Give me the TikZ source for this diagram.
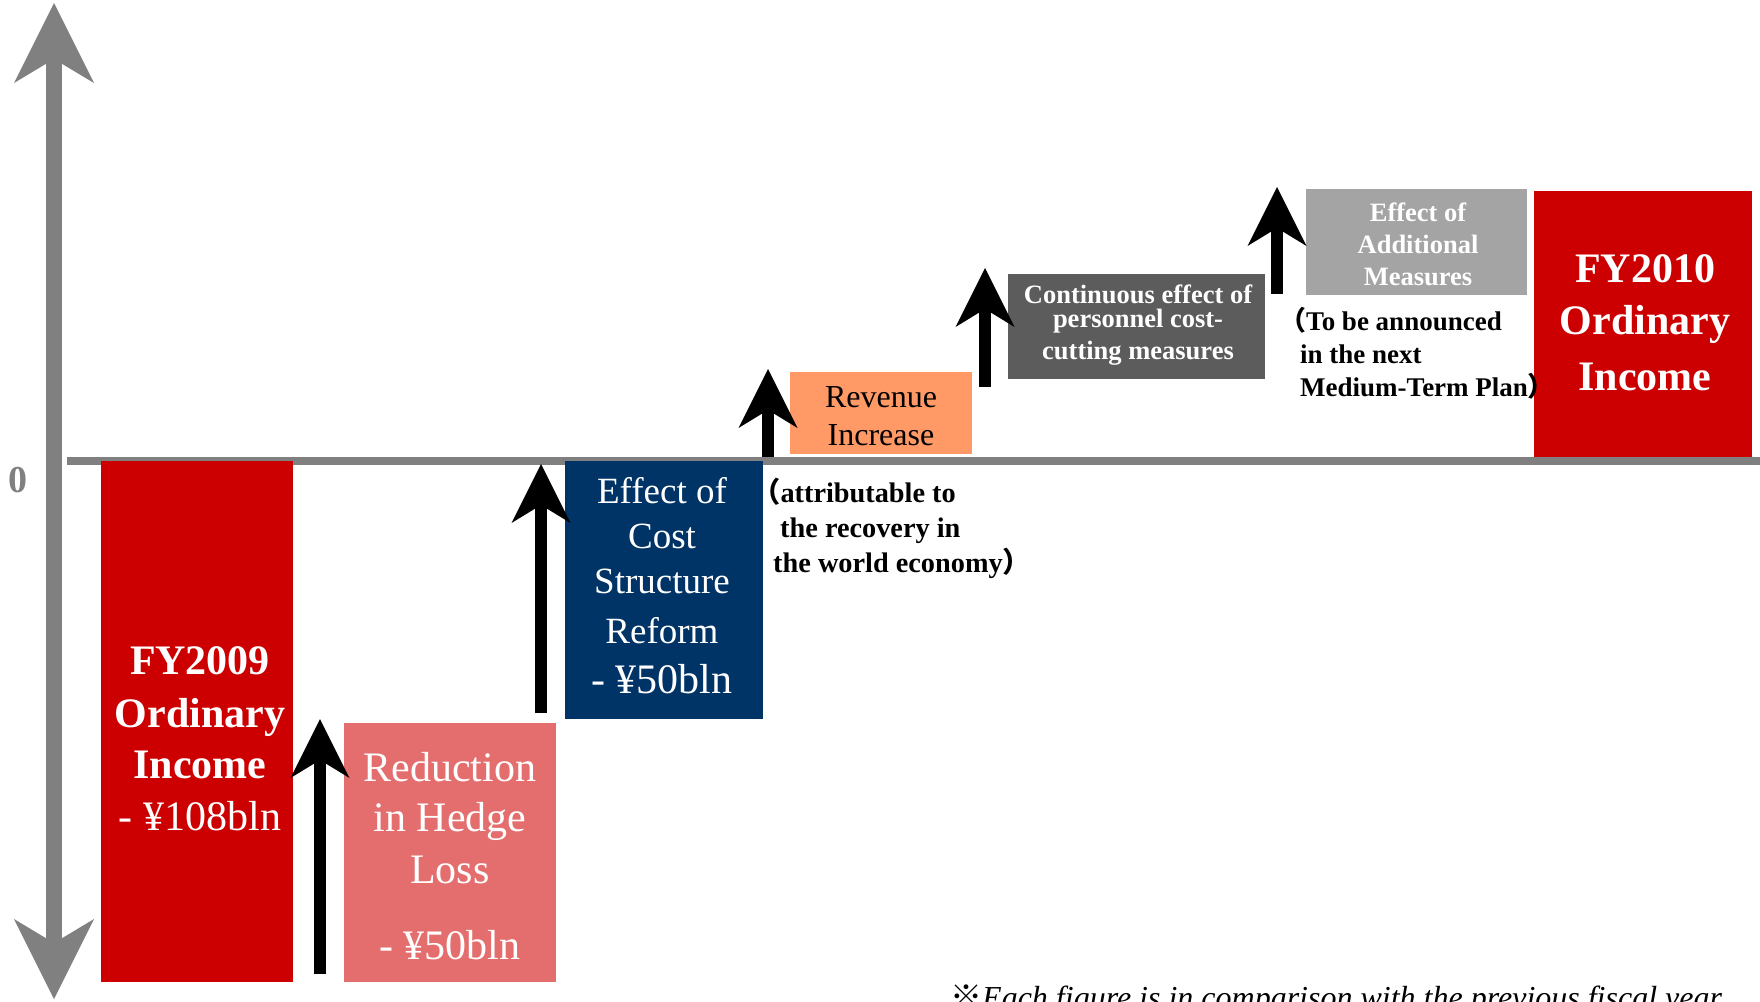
\documentclass[tikz,border=0pt]{standalone}
\usepackage{fontspec}
\setmainfont{Liberation Serif}
\newfontfamily\cjk{Noto Sans CJK JP}
\usetikzlibrary{arrows.meta}
\definecolor{incomered}{HTML}{CC0000}
\definecolor{hedgepink}{HTML}{E46E6E}
\definecolor{reformnavy}{HTML}{003366}
\definecolor{revorange}{HTML}{FF9966}
\definecolor{costgray}{HTML}{5C5C5C}
\definecolor{addgray}{HTML}{A4A4A4}
\definecolor{axisgray}{HTML}{808080}
\newcommand\bigbold{\bfseries\fontsize{42}{42}\selectfont}
\newcommand\bigreg{\fontsize{42}{42}\selectfont}
\newcommand\midreg{\fontsize{37}{37}\selectfont}
\newcommand\smallbold{\bfseries\fontsize{26.5}{26.5}\selectfont}
\begin{document}
\begin{tikzpicture}[x=1pt,y=-1pt, line join=miter]
	\tikzset{
		uparrow/.style={line width=12pt,-{Stealth[length=59pt,width=59pt,inset=18pt,line width=0pt]}},
		axisarrow/.style={axisgray,line width=16pt,{Stealth[length=80pt,width=80pt,inset=24pt,line width=0pt]}-{Stealth[length=80pt,width=80pt,inset=24pt,line width=0pt]}},
		boxtext/.style={text=white,inner sep=0pt,anchor=base},
		notetext/.style={text=black,inner sep=0pt,anchor=base west,font=\bfseries\fontsize{28.3}{28.3}\selectfont}
	}
	\clip(0,0)rectangle(1760,1001);
	%%%%%%%%% axes
	\draw[axisgray,line width=8pt](67,461)--(1760,461);
	\draw[axisarrow](54,999)--(54,3);
	\node[text=axisgray,inner sep=0pt,font=\bfseries\fontsize{38}{38}\selectfont] (zero) at (18,480) {0};
	%%%%%%%%% bars
	\fill[incomered](101,461)rectangle(293,982);
	\fill[hedgepink](344,723)rectangle(556,982);
	\fill[reformnavy](565,461)rectangle(763,719);
	\fill[revorange](790,372)rectangle(972,454);
	\fill[costgray](1008,274)rectangle(1265,379);
	\fill[addgray](1306,189)rectangle(1527,295);
	\fill[incomered](1534,191)rectangle(1752,457);
	%%%%%%%%% steps
	\draw[uparrow](320,974)--(320,719);
	\draw[uparrow](541,713)--(541,464);
	\draw[uparrow](768,457)--(768,369);
	\draw[uparrow](985,387)--(985,268);
	\draw[uparrow](1277,294)--(1277,187);
	%%%%%%%%% FY2009
	\foreach \y/\t [count=\i] in {674/FY2009,727/Ordinary,778/Income}
	\node[boxtext,font=\bigbold] (fy09-\i) at (200,\y) {\t};
	\node[boxtext,font=\bigreg] (fy09-val) at (200,830) {- ¥108bln};
	%%%%%%%%% hedge
	\foreach \y/\t [count=\i] in {781/Reduction,831/in Hedge,883/Loss,959/- ¥50bln}
	\node[boxtext,font=\bigreg] (hedge-\i) at (450,\y) {\t};
	%%%%%%%%% cost structure
	\foreach \y/\t [count=\i] in {503/Effect of,548/Cost,593/Structure,643/Reform}
	\node[boxtext,font=\midreg] (reform-\i) at (662,\y) {\t};
	\node[boxtext,font=\bigreg] (reform-val) at (662,693) {- ¥50bln};
	%%%%%%%%% revenue
	\foreach \y/\t [count=\i] in {407/Revenue,445/Increase}
	\node[boxtext,text=black,font=\fontsize{32}{32}\selectfont] (rev-\i) at (881,\y) {\t};
	\node[notetext] (rev-note1) at (752,502) {{\cjk （}attributable to};
	\node[notetext] (rev-note2) at (780,537) {the recovery in};
	\node[notetext] (rev-note3) at (773,572) {the world economy{\cjk ）}};
	%%%%%%%%% personnel
	\foreach \y/\t [count=\i] in {303/Continuous effect of,327/personnel cost-,359/cutting measures}
	\node[boxtext,font=\smallbold] (pers-\i) at (1138,\y) {\t};
	%%%%%%%%% additional
	\foreach \y/\t [count=\i] in {221/Effect of,253/Additional,285/Measures}
	\node[boxtext,font=\smallbold] (add-\i) at (1418,\y) {\t};
	\node[notetext,font=\bfseries\fontsize{27}{27}\selectfont] (add-note1) at (1279,330) {{\cjk （}To be announced};
	\node[notetext,font=\bfseries\fontsize{27}{27}\selectfont] (add-note2) at (1300,363) {in the next};
	\node[notetext,font=\bfseries\fontsize{27}{27}\selectfont] (add-note3) at (1300,396) {Medium-Term Plan{\cjk ）}};
	%%%%%%%%% FY2010
	\foreach \y/\t [count=\i] in {282/FY2010,334/Ordinary,390/Income}
	\node[boxtext,font=\bigbold] (fy10-\i) at (1645,\y) {\t};
	%%%%%%%%% footnote
	\node[inner sep=0pt,anchor=base west,font=\itshape\fontsize{32}{32}\selectfont] (foot) at (950,1008) {{\cjk ※}Each figure is in comparison with the previous fiscal year};
\end{tikzpicture}
\end{document}
